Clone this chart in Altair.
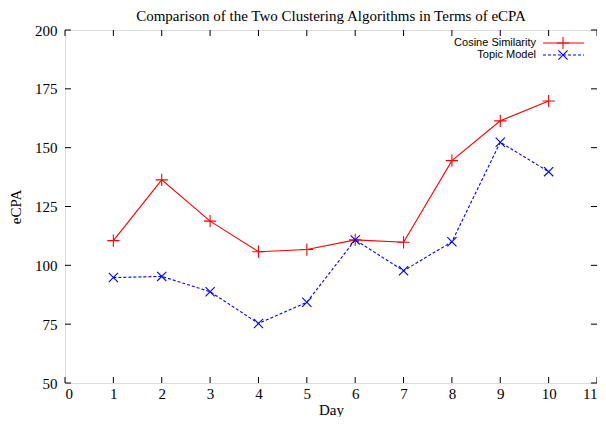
import altair as alt
import pandas as pd

days = [1, 2, 3, 4, 5, 6, 7, 8, 9, 10]
cosine = [110.5, 136.3, 118.8, 105.8, 106.7, 110.8, 109.8, 144.5, 161.4, 169.8]
topic = [94.8, 95.3, 88.8, 75.3, 84.3, 110.8, 97.7, 110.0, 152.3, 139.8]
series_names = ["Cosine Similarity", "Topic Model"]
x_ticks = list(range(0, 12))
y_ticks = [50, 75, 100, 125, 150, 175, 200]

W, H = 532, 353
SERIF = "Liberation Serif"
SANS = "Liberation Sans"

df = pd.DataFrame({
    "Day": days * 2,
    "eCPA": cosine + topic,
    "Series": [series_names[0]] * len(days) + [series_names[1]] * len(days),
})
xt = pd.DataFrame({"v": x_ticks})
yt = pd.DataFrame({"v": y_ticks})

xscale = alt.Scale(domain=[0, 11], nice=False, zero=False)
yscale = alt.Scale(domain=[50, 200], nice=False, zero=False)

PLUS = "M-1,0L1,0M0,-1L0,1"
XSHAPE = "M-0.75,-0.75L0.75,0.75M-0.75,0.75L0.75,-0.75"

base = alt.Chart(df)

red_line = base.transform_filter(alt.datum.Series == series_names[0]).mark_line(
    color="#ff0000", strokeWidth=1.1
).encode(
    x=alt.X("Day:Q", scale=xscale,
            axis=alt.Axis(values=x_ticks, title="Day", tickSize=0, domain=False, grid=False,
                          labelFont=SERIF, labelFontSize=15, labelColor="black", labelPadding=3,
                          titleFont=SERIF, titleFontSize=15, titleFontWeight="normal",
                          titleColor="black", titlePadding=1)),
    y=alt.Y("eCPA:Q", scale=yscale,
            axis=alt.Axis(values=y_ticks, title="eCPA", tickSize=0, domain=False, grid=False,
                          labelFont=SERIF, labelFontSize=15, labelColor="black", labelPadding=8,
                          titleFont=SERIF, titleFontSize=15, titleFontWeight="normal",
                          titleColor="black", titlePadding=11)),
)
red_pts = base.transform_filter(alt.datum.Series == series_names[0]).mark_point(
    shape=PLUS, size=150, filled=False, color="#ff0000", strokeWidth=1.1, opacity=1
).encode(x=alt.X("Day:Q", scale=xscale), y=alt.Y("eCPA:Q", scale=yscale))

blue_line = base.transform_filter(alt.datum.Series == series_names[1]).mark_line(
    color="#0000ff", strokeWidth=1.1, strokeDash=[3, 2]
).encode(x=alt.X("Day:Q", scale=xscale), y=alt.Y("eCPA:Q", scale=yscale))
blue_pts = base.transform_filter(alt.datum.Series == series_names[1]).mark_point(
    shape=XSHAPE, size=150, filled=False, color="#0000ff", strokeWidth=1.1, opacity=1
).encode(x=alt.X("Day:Q", scale=xscale), y=alt.Y("eCPA:Q", scale=yscale))

TL = 6
xt_bot = alt.Chart(xt).mark_rule(color="black", strokeWidth=1).encode(
    x=alt.X("v:Q", scale=xscale), y=alt.value(H - TL), y2=alt.value(H))
xt_top = alt.Chart(xt).mark_rule(color="black", strokeWidth=1).encode(
    x=alt.X("v:Q", scale=xscale), y=alt.value(0), y2=alt.value(TL))
yt_left = alt.Chart(yt).mark_rule(color="black", strokeWidth=1).encode(
    y=alt.Y("v:Q", scale=yscale), x=alt.value(0), x2=alt.value(TL))
yt_right = alt.Chart(yt).mark_rule(color="black", strokeWidth=1).encode(
    y=alt.Y("v:Q", scale=yscale), x=alt.value(W - TL), x2=alt.value(W))

# legend (manual, gnuplot style: label left, sample right)
leg1 = pd.DataFrame({"t": [series_names[0]]})
leg2 = pd.DataFrame({"t": [series_names[1]]})
LX_TEXT, LX0, LX1, LXM = 471, 478, 519, 498
LY1, LY2 = 13, 25
lt1 = alt.Chart(leg1).mark_text(align="right", baseline="middle", font=SANS, fontSize=11,
                                color="black").encode(text="t:N", x=alt.value(LX_TEXT), y=alt.value(LY1))
lt2 = alt.Chart(leg2).mark_text(align="right", baseline="middle", font=SANS, fontSize=11,
                                color="black").encode(text="t:N", x=alt.value(LX_TEXT), y=alt.value(LY2))
ll1 = alt.Chart(leg1).mark_rule(color="#ff0000", strokeWidth=1.1).encode(
    x=alt.value(LX0), x2=alt.value(LX1), y=alt.value(LY1))
ll2 = alt.Chart(leg2).mark_rule(color="#0000ff", strokeWidth=1.1, strokeDash=[3, 2]).encode(
    x=alt.value(LX0), x2=alt.value(LX1), y=alt.value(LY2))
lp1 = alt.Chart(leg1).mark_point(shape=PLUS, size=150, filled=False, color="#ff0000",
                                 strokeWidth=1.1, opacity=1).encode(x=alt.value(LXM), y=alt.value(LY1))
lp2 = alt.Chart(leg2).mark_point(shape=XSHAPE, size=150, filled=False, color="#0000ff",
                                 strokeWidth=1.1, opacity=1).encode(x=alt.value(LXM), y=alt.value(LY2))

chart = alt.layer(
    red_line, blue_line, red_pts, blue_pts,
    xt_bot, xt_top, yt_left, yt_right,
    lt1, lt2, ll1, ll2, lp1, lp2,
).properties(
    width=W, height=H,
    title=alt.TitleParams("Comparison of the Two Clustering Algorithms in Terms of eCPA",
                          font=SERIF, fontSize=15, fontWeight="normal", color="black",
                          anchor="middle", offset=5, dy=6),
    autosize=alt.AutoSizeParams(type="none"),
    padding={"left": 57, "top": 22, "right": 0, "bottom": 34},
).configure_view(
    stroke="black", strokeWidth=1.5
).configure(background="white")

chart.save("out.html", embed_options={"renderer": "svg", "actions": False})
